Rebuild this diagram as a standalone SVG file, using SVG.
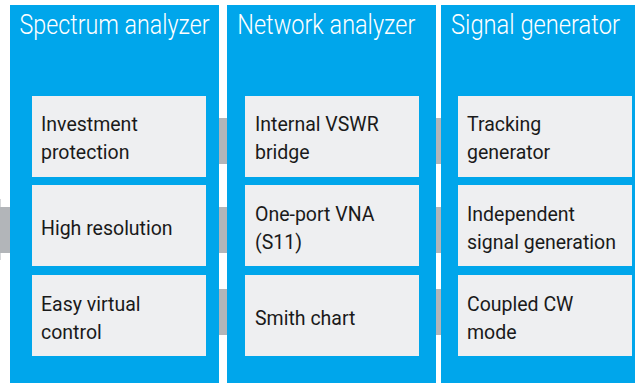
<svg xmlns="http://www.w3.org/2000/svg" width="635" height="383" viewBox="0 0 635 383">
<style>
.panel{fill:#00A6EB}
.box{fill:#EEEFF1}
.conn{fill:#B2B5B9}
.title{font-family:Roboto,"Liberation Sans",sans-serif;font-weight:300;font-size:28px;fill:#FFFFFF}
.lbl{font-family:Roboto,"Liberation Sans",sans-serif;font-size:19.5px;fill:#1A1A1A}
</style>
<rect width="635" height="383" fill="#FFFFFF"/>
<g id="connectors">
<rect x="0" y="199" width="1" height="61" fill="#D5D7DA"/>
<rect class="conn" x="0" y="207" width="10" height="46"/>
<rect class="conn" x="219" y="118" width="8" height="46"/>
<rect class="conn" x="219" y="207" width="8" height="46"/>
<rect class="conn" x="219" y="289" width="8" height="46"/>
<rect class="conn" x="436" y="118" width="5" height="46"/>
<rect class="conn" x="436" y="207" width="5" height="46"/>
<rect class="conn" x="436" y="289" width="5" height="46"/>
</g>
<g id="spectrum-analyzer">
<rect class="panel" x="10" y="5" width="209" height="378"/>
<text class="title" x="19.5" y="33.5" textLength="190" lengthAdjust="spacingAndGlyphs">Spectrum analyzer</text>
<g id="investment-protection">
<rect class="box" x="32" y="96" width="174" height="81"/>
<text class="lbl" x="41" y="131">Investment</text>
<text class="lbl" x="41" y="159">protection</text>
</g>
<g id="high-resolution">
<rect class="box" x="32" y="185" width="174" height="81"/>
<text class="lbl" x="41" y="235">High resolution</text>
</g>
<g id="easy-virtual-control">
<rect class="box" x="32" y="275" width="174" height="81"/>
<text class="lbl" x="41" y="311">Easy virtual</text>
<text class="lbl" x="41" y="339">control</text>
</g>
</g>
<g id="network-analyzer">
<rect class="panel" x="227" y="5" width="209" height="378"/>
<text class="title" x="237.3" y="33.5" textLength="178" lengthAdjust="spacingAndGlyphs">Network analyzer</text>
<g id="internal-vswr-bridge">
<rect class="box" x="245" y="96" width="174" height="81"/>
<text class="lbl" x="255" y="131">Internal VSWR</text>
<text class="lbl" x="255" y="159">bridge</text>
</g>
<g id="one-port-vna">
<rect class="box" x="245" y="185" width="174" height="81"/>
<text class="lbl" x="255" y="221">One-port VNA</text>
<text class="lbl" x="255" y="249">(S11)</text>
</g>
<g id="smith-chart">
<rect class="box" x="245" y="275" width="174" height="81"/>
<text class="lbl" x="255" y="325">Smith chart</text>
</g>
</g>
<g id="signal-generator">
<rect class="panel" x="441" y="5" width="194" height="378"/>
<text class="title" x="451" y="33.5" textLength="169" lengthAdjust="spacingAndGlyphs">Signal generator</text>
<g id="tracking-generator">
<rect class="box" x="458" y="96" width="174" height="81"/>
<text class="lbl" x="467" y="131">Tracking</text>
<text class="lbl" x="467" y="159">generator</text>
</g>
<g id="independent-signal-generation">
<rect class="box" x="458" y="185" width="174" height="81"/>
<text class="lbl" x="467" y="221">Independent</text>
<text class="lbl" x="467" y="249">signal generation</text>
</g>
<g id="coupled-cw-mode">
<rect class="box" x="458" y="275" width="174" height="81"/>
<text class="lbl" x="467" y="311">Coupled CW</text>
<text class="lbl" x="467" y="339">mode</text>
</g>
</g>
</svg>
